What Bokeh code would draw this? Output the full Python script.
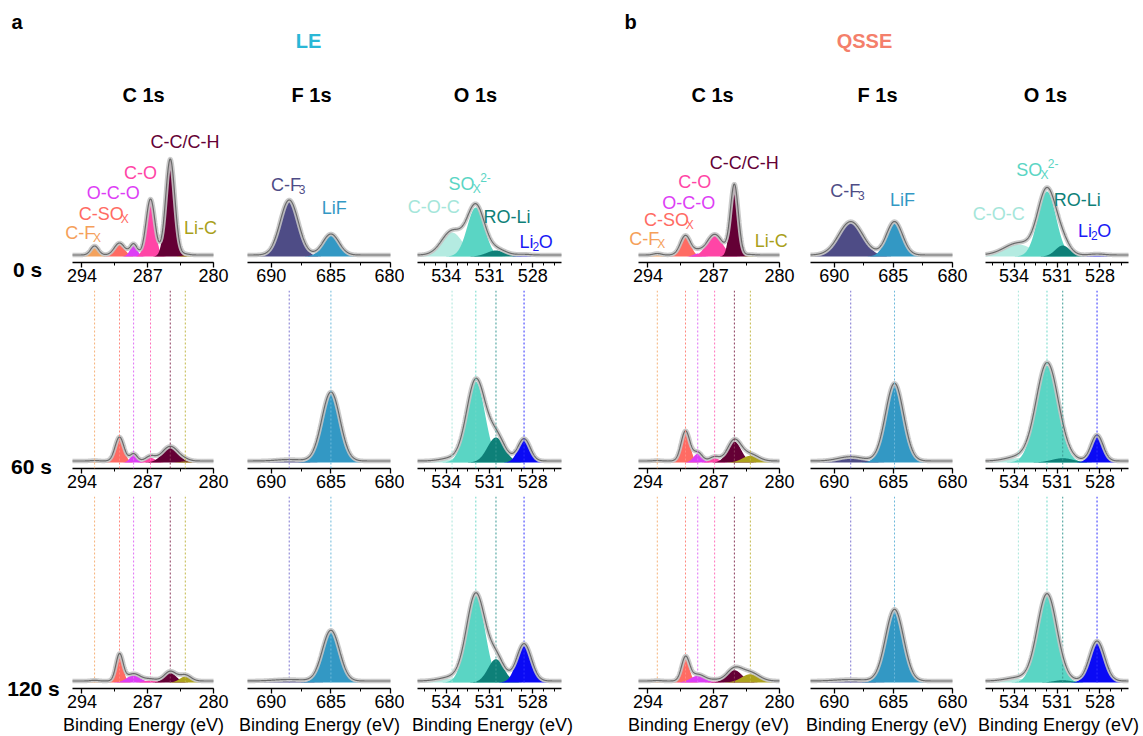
import numpy as np
from bokeh.plotting import figure
from bokeh.layouts import row, column
from bokeh.models import Range1d, FixedTicker, Span, Label
from bokeh.core.properties import value
from bokeh.embed import file_html
from bokeh.resources import INLINE

FONT = "Liberation Sans"

# ------------------------------------------------------------------ data
samples = ["LE", "QSSE"]
levels = ["C", "F", "O"]
times = ["0 s", "60 s", "120 s"]
x_title = "Binding Energy (eV)"

energy_range = {"C": (295, 280), "F": (692, 680), "O": (536, 526)}
major_ticks = {"C": [294, 287, 280], "F": [690, 685, 680], "O": [534, 531, 528]}
minor_ticks = {"C": [294, 290.5, 287, 283.5, 280],
               "F": [690, 687.5, 685, 682.5, 680],
               "O": [535.5, 534.75, 534, 533.25, 532.5, 531.75, 531, 530.25,
                     529.5, 528.75, 528, 527.25, 526.5]}

c1s_names = ["C-Fx", "C-SOx", "O-C-O", "C-O", "C-C/C-H", "Li-C"]
f1s_names = ["C-F3", "LiF"]
o1s_names = ["C-O-C", "SOx2-", "RO-Li", "Li2O"]

c1s_colors = ["#F4A25C", "#FF6B63", "#DD3EF5", "#FF45A6", "#640035", "#ADA21C"]
f1s_colors = ["#4E4C86", "#3398C4"]
o1s_colors = ["#B4EBE1", "#5AD5C4", "#0E8078", "#0A0AF5"]

c1s_label_colors = ["#F5A05A", "#FF6B63", "#DD3EF5", "#FF45A6", "#640035", "#A99F1A"]
f1s_label_colors = ["#4E4C86", "#3398C4"]
o1s_label_colors = ["#A5E6DA", "#5AD5C4", "#0E8078", "#1A1AF5"]

# peak centres (eV)
le_c_centers = [292.65, 290.0, 288.5, 286.7, 284.6, 283.0]
le_f_centers = [688.5, 685.0]
le_o_centers = [533.6, 531.95, 530.55, 528.6]
qsse_c_centers = [293.0, 290.0, 288.7, 286.9, 284.8, 283.1]
qsse_f_centers = [688.6, 684.9]
qsse_o_centers = [533.7, 531.7, 530.6, 528.2]

# peak heights (a.u.) and FWHM (eV) per time: 0 s, 60 s, 120 s
le_c_heights = [[9, 12, 11, 56, 96, 1], [0.5, 24, 7.3, 4.7, 14.7, 1], [0.7, 26.7, 7.3, 2, 9.7, 6]]
le_c_fwhm = [[1.0, 1.3, 0.9, 1.1, 1.15, 1.0], [1.0, 1.1, 0.9, 1.2, 2.0, 1.2], [1.0, 0.9, 1.7, 1.5, 1.5, 1.4]]
le_f_heights = [[55, 21], [1.5, 69], [1.5, 50.7]]
le_f_fwhm = [[1.8, 1.6], [2.5, 1.8], [3.0, 1.7]]
le_o_heights = [[24, 49, 6, 0.7], [3, 80.7, 25, 22.3], [4, 86.7, 23.3, 37.3]]
le_o_fwhm = [[1.7, 1.4, 1.5, 1.0], [1.8, 1.5, 1.4, 1.0], [2.0, 1.5, 1.3, 1.2]]

qsse_c_heights = [[1.5, 19.6, 2.9, 20.7, 70, 0.5], [0.5, 30, 8.7, 4.3, 21, 6.7], [0.5, 23.3, 6.7, 1, 12.3, 8.3]]
qsse_c_fwhm = [[1.0, 1.3, 1.0, 2.0, 1.0, 1.0], [1.0, 1.1, 1.1, 1.2, 1.7, 2.0], [1.0, 1.0, 1.8, 1.2, 1.9, 2.2]]
qsse_f_heights = [[33.4, 33.4], [4.3, 77.7], [1.5, 71.7]]
qsse_f_fwhm = [[2.4, 1.6], [2.5, 1.8], [3.0, 1.8]]
qsse_o_heights = [[12, 65, 11, 1], [4.3, 96.7, 4.3, 26], [3.5, 86.7, 2.3, 40]]
qsse_o_fwhm = [[2.3, 1.5, 1.2, 1.2], [2.0, 1.8, 1.8, 1.0], [2.0, 1.6, 1.4, 1.25]]

background = 1.5

# ------------------------------------------------------------------ styling / layout config
names = {"C": c1s_names, "F": f1s_names, "O": o1s_names}
colors = {"C": c1s_colors, "F": f1s_colors, "O": o1s_colors}
label_colors = {"C": c1s_label_colors, "F": f1s_label_colors, "O": o1s_label_colors}
centers = {("LE", "C"): le_c_centers, ("LE", "F"): le_f_centers, ("LE", "O"): le_o_centers,
           ("QSSE", "C"): qsse_c_centers, ("QSSE", "F"): qsse_f_centers, ("QSSE", "O"): qsse_o_centers}
heights = {("LE", "C"): le_c_heights, ("LE", "F"): le_f_heights, ("LE", "O"): le_o_heights,
           ("QSSE", "C"): qsse_c_heights, ("QSSE", "F"): qsse_f_heights, ("QSSE", "O"): qsse_o_heights}
fwhms = {("LE", "C"): le_c_fwhm, ("LE", "F"): le_f_fwhm, ("LE", "O"): le_o_fwhm,
         ("QSSE", "C"): qsse_c_fwhm, ("QSSE", "F"): qsse_f_fwhm, ("QSSE", "O"): qsse_o_fwhm}

# annotation anchor positions for the 0 s panels (eV, a.u.)
label_pos = {
    ("LE", "C"): [(293.9, 24), (291.7, 43), (290.85, 64), (287.9, 84), (283.3, 115), (281.5, 29)],
    ("LE", "F"): [(688.6, 72), (684.8, 49)],
    ("LE", "O"): [(535.0, 50), (532.4, 73), (529.9, 40), (527.8, 15)],
    ("QSSE", "C"): [(294.1, 18), (291.8, 37), (289.85, 54), (289.15, 75), (284.0, 94), (281.0, 16)],
    ("QSSE", "F"): [(688.9, 66), (684.3, 57)],
    ("QSSE", "O"): [(535.2, 43), (532.4, 87), (529.7, 57), (528.4, 26)],
}
label_parts = {
    "C-Fx": [("C-F", "n"), ("X", "s")],
    "C-SOx": [("C-SO", "n"), ("X", "s")],
    "O-C-O": [("O-C-O", "n")],
    "C-O": [("C-O", "n")],
    "C-C/C-H": [("C-C/C-H", "n")],
    "Li-C": [("Li-C", "n")],
    "C-F3": [("C-F", "n"), ("3", "s")],
    "LiF": [("LiF", "n")],
    "C-O-C": [("C-O-C", "n")],
    "SOx2-": [("SO", "n"), ("X", "s"), ("2-", "p")],
    "RO-Li": [("RO-Li", "n")],
    "Li2O": [("Li", "n"), ("2", "s"), ("O", "n")],
}
dot_colors = {"C": ["#F6B27A", "#FF8A80", "#E070F5", "#FF70BB", "#8A3A5C", "#C2B84A"],
              "F": ["#7C74D0", "#6DB8DA"],
              "O": ["#A8E6DA", "#6FD8C8", "#3A9A94", "#3030FF"]}

AW = {'C': 722, '-': 333, '/': 278, 'H': 722, 'O': 778, 'F': 611, 'X': 667, 'S': 667,
      'L': 556, 'i': 222, 'R': 722, '2': 556, '3': 556, ' ': 278, 'E': 667}


def tw(s, size):
    return sum(AW.get(ch, 556) for ch in s) / 1000.0 * size * 0.93


NS, SS = 18, 12  # normal / sub-script font size

# column geometry in pixels: (space left of axis, axis length, space right of axis)
col_order = [("LE", "C"), ("LE", "F"), ("LE", "O"), ("QSSE", "C"), ("QSSE", "F"), ("QSSE", "O")]
col_geom = {("LE", "C"): (12, 141, 17), ("LE", "F"): (17, 143, 14), ("LE", "O"): (13, 144, 39),
            ("QSSE", "C"): (38, 141, 16), ("QSSE", "F"): (15, 142, 16), ("QSSE", "O"): (17, 143, 15)}
row_geom = [(184, 28), (206, 28), (218, 26)]  # (height, bottom border)
row_page_top = [106, 290, 496]
label_w = 60
header_h = 106
footer_h = 22
footer_top = 714
footer_x = [143, 319, 492, 708, 886, 1058]
base_off = 6


def gauss(x, c, h, w):
    return h * np.exp(-4 * np.log(2) * (x - c) ** 2 / w ** 2)


def add_label(p, x, y, name, color):
    parts = label_parts[name]
    total = sum(tw(t, NS if k == "n" else SS) for t, k in parts)
    off = -total / 2.0
    for t, k in parts:
        size = NS if k == "n" else SS
        yy = y if k == "n" else (y - 5 if k == "s" else y + 6)
        p.add_layout(Label(x=x, y=yy, text=t, text_font=FONT, text_font_size=f"{size}px",
                           text_color=color, text_align="left", text_baseline="middle",
                           x_offset=off))
        off += tw(t, size)


def make_panel(sample, level, r):
    bl, fw, br = col_geom[(sample, level)]
    h, bb = row_geom[r]
    frame_h = h - bb
    lo, hi = energy_range[level]
    ppe = fw / float(lo - hi)  # pixels per eV
    p = figure(width=bl + fw + br, height=h,
               x_range=Range1d(lo + bl / ppe, hi - br / ppe),
               y_range=Range1d(-base_off, frame_h - base_off),
               output_backend="svg", toolbar_location=None, y_axis_location=None)
    p.min_border_left = 0
    p.min_border_right = 0
    p.min_border_top = 0
    p.min_border_bottom = bb
    p.outline_line_color = None
    p.grid.visible = False
    p.background_fill_color = "white"
    p.border_fill_color = "white"

    ax = p.xaxis[0]
    ax.bounds = (hi, lo)
    ax.ticker = FixedTicker(ticks=major_ticks[level], minor_ticks=minor_ticks[level])
    ax.axis_line_width = 1.6
    ax.axis_line_color = "black"
    ax.major_tick_in = 0
    ax.major_tick_out = 5
    ax.minor_tick_in = 0
    ax.minor_tick_out = 3
    ax.major_tick_line_width = 1.3
    ax.minor_tick_line_width = 1.0
    ax.major_label_text_font = FONT
    ax.major_label_text_font_size = "18px"
    ax.major_label_text_color = "black"
    ax.major_label_standoff = 1

    x = np.linspace(hi, lo, 700)
    cs = centers[(sample, level)]
    hs = heights[(sample, level)][r]
    ws = fwhms[(sample, level)][r]
    total = np.full_like(x, background)
    for c, hh, w, col in zip(cs, hs, ws, colors[level]):
        g = gauss(x, c, hh, w)
        total = total + g
        p.varea(x=x, y1=0, y2=g, fill_color=col, fill_alpha=1.0)

    if r == 1:
        for c, col in zip(cs, dot_colors[level]):
            p.add_layout(Span(location=c, dimension="height", line_color=col,
                              line_dash="2 2", line_width=1))
    elif r == 2:
        top = frame_h - base_off
        p.segment(x0=cs, y0=[0] * len(cs), x1=cs, y1=[top] * len(cs),
                  line_color=dot_colors[level], line_dash="2 2", line_width=1)

    p.line(x, total, line_color="#C4C4C4", line_width=4.5, line_alpha=0.9)
    p.line(x, total, line_color="#6A6A6A", line_width=1.2)

    if r == 0:
        for (lx, ly), nm, col in zip(label_pos[(sample, level)], names[level], label_colors[level]):
            add_label(p, lx, ly, nm, col)
    return p


def text_fig(w, h, x0, x1, y_top, y_bot):
    p = figure(width=w, height=h, x_range=Range1d(x0, x1), y_range=Range1d(y_bot, y_top),
               output_backend="svg", toolbar_location=None,
               x_axis_location=None, y_axis_location=None, min_border=0)
    p.outline_line_color = None
    p.grid.visible = False
    if "frame_align" in p.properties():
        p.frame_align = False
    return p


# header (page-pixel coordinates)
header = text_fig(1143, header_h, 0, 1143, 0, header_h)
header_items = [("a", 11, 21, "left", "black"), ("b", 624, 21, "left", "black"),
                ("LE", 308, 40, "center", "#2AB7D6"), ("QSSE", 864, 40, "center", "#F47F6B"),
                ("C 1s", 143, 94, "center", "black"), ("F 1s", 311, 94, "center", "black"),
                ("O 1s", 475, 94, "center", "black"), ("C 1s", 712, 94, "center", "black"),
                ("F 1s", 877, 94, "center", "black"), ("O 1s", 1045, 94, "center", "black")]
for t, hx, hy, al, col in header_items:
    header.text(x=[hx], y=[hy], text=[t], text_font=value(FONT), text_font_size="20px",
                text_font_style="bold", text_color=col, text_align=al, text_baseline="middle")

row_label_y = [269, 466, 688]
row_label_x = [27, 31, 33]
rows = []
for r in range(3):
    h, bb = row_geom[r]
    lf = text_fig(label_w, h, 0, label_w, row_page_top[r], row_page_top[r] + h)
    lf.text(x=[row_label_x[r]], y=[row_label_y[r]], text=[times[r]], text_font=value(FONT),
            text_font_size="21px", text_font_style="bold", text_color="black",
            text_align="center", text_baseline="middle")
    kids = [lf]
    for key in col_order:
        kids.append(make_panel(key[0], key[1], r))
    rows.append(row(children=kids, spacing=0))

# x-axis titles under the bottom row
footer = text_fig(1143, footer_h, 0, 1143, footer_top, footer_top + footer_h)
footer.text(x=footer_x, y=[footer_top + 10] * len(footer_x), text=[x_title] * len(footer_x),
            text_font=value(FONT), text_font_size="18px", text_color="black",
            text_align="center", text_baseline="middle")

layout = column(children=[header] + rows + [footer], spacing=0)
open("out.html", "w").write(file_html(layout, INLINE))
